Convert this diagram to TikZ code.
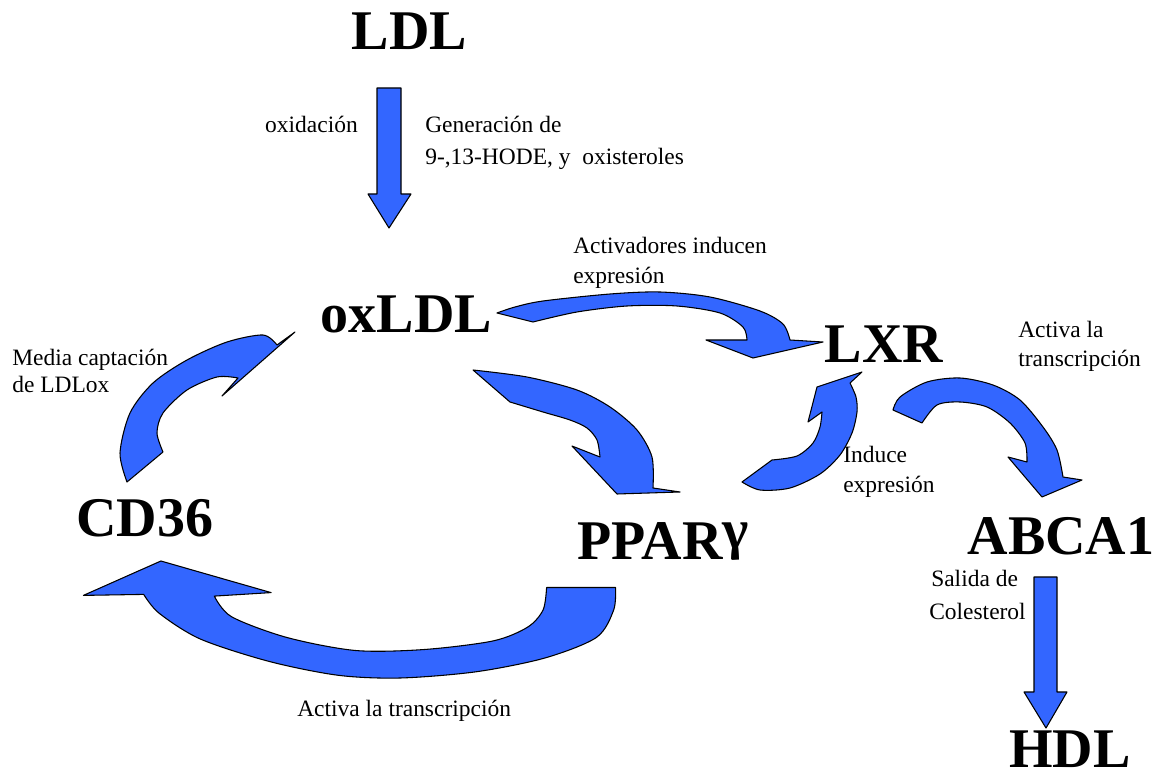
\documentclass[tikz,border=0pt]{standalone}
\usepackage{fontspec}
\setmainfont{Liberation Serif}
\definecolor{arrowblue}{RGB}{51,102,255}
\tikzset{
  big/.style={inner sep=0pt, anchor=base, text depth=0pt, font=\fontsize{42}{50}\selectfont\bfseries},
  small/.style={inner sep=0pt, anchor=base west, font=\fontsize{17.6}{21}\selectfont},
  blockarrow/.style={fill=arrowblue, draw=black, line width=0.8pt, line join=round},
}
\begin{document}
\begin{tikzpicture}[x=0.75pt,y=-0.75pt]
\useasboundingbox (0,0) rectangle (1158,780);
% labels
\node[big] (ldl) at (409.5,50) {LDL};
\node[big] (oxldl) at (406.5,333) {oxLDL};
\node[big] (lxr) at (884,363) {LXR};
\node[big] (cd36) at (145,537) {CD36};
\node[big] (ppar) at (663,560) {PPAR\raisebox{0.2em}{γ}};
\node[big] (abca) at (1061,555) {ABCA1};
\node[big] (hdl) at (1070,767) {HDL};
% small texts
\node[small, anchor=base east] (oxid) at (358,133) {oxidación};
\node[small] (gen1) at (425,133) {Generación de};
\node[small] (gen2) at (425,165) {9-,13-HODE, y\ \ oxisteroles};
\node[small] (act1) at (573,254) {Activadores inducen};
\node[small] (act2) at (573,284) {expresión};
\node[small] (med1) at (12,366) {Media captación};
\node[small] (med2) at (12,393) {de LDLox};
\node[small] (acl1) at (1018,338) {Activa la};
\node[small] (acl2) at (1018,367) {transcripción};
\node[small] (ind1) at (843,463) {Induce};
\node[small] (ind2) at (843,493) {expresión};
\node[small] (sal1) at (931,587) {Salida de};
\node[small] (sal2) at (929,620) {Colesterol};
\node[small] (actb) at (297,716) {Activa la transcripción};
% straight arrows
\path[blockarrow] (377,88) -- (401,88) -- (401,194) -- (411,194) -- (389,228) -- (368,194) -- (377,194) -- cycle;
\path[blockarrow] (1034,577) -- (1057,577) -- (1057,692) -- (1067,692) -- (1046,728) -- (1024,692) -- (1034,692) -- cycle;
% A: oxLDL -> LXR
\path[blockarrow] plot[smooth] coordinates {(497,313) (515,307) (543,301) (610,294) (660,292) (710,297) (760,311) (783,324) (790,340)}
  -- (823,342) -- (753,358) -- (706,340) -- (747,340)
  -- plot[smooth] coordinates {(747,340) (743,327) (720,313) (677,306) (627,306) (577,312) (533,322)} -- cycle;
% B: oxLDL -> PPARg
\path[blockarrow] plot[smooth] coordinates {(473,370) (527,377) (577,390) (610,407) (637,430) (652,457) (653,488)}
  -- (680,492) -- (617,494) -- (572,446) -- (600,457)
  -- plot[smooth] coordinates {(600,457) (597,440) (587,428) (570,420) (543,412) (510,402)} -- cycle;
% C: PPARg -> LXR
\path[blockarrow] (742,482) -- (772,460)
  -- plot[smooth] coordinates {(772,460) (797,456) (813,443) (820,427) (822,412)}
  -- (808,422) -- (817,387) -- (862,372) -- (850,383)
  -- plot[smooth] coordinates {(850,383) (856,397) (857,412) (852,433) (840,455) (820,474) (790,488) (760,490) (742,482)} -- cycle;
% D: LXR -> ABCA1
\path[blockarrow] plot[smooth] coordinates {(893,410) (900,397) (927,382) (960,378) (993,385) (1020,400) (1043,427) (1057,450) (1063,477)}
  -- (1082,480) -- (1042,497) -- (1008,457) -- (1027,462)
  -- plot[smooth] coordinates {(1027,462) (1025,443) (1010,423) (987,407) (960,402) (937,405) (922,423)} -- cycle;
% E: CD36 -> oxLDL
\path[blockarrow] plot[smooth] coordinates {(127,482) (120,453) (130,413) (153,383) (187,360) (227,342) (263,335) (277,345)}
  -- (295,332) -- (222,396) -- (238,378)
  -- plot[smooth] coordinates {(238,378) (217,377) (187,390) (163,413) (157,433) (163,452)} -- cycle;
% F: PPARg -> CD36
\path[blockarrow] (546.6,587.5) -- (615.5,587.5)
  -- plot[smooth] coordinates {(615.5,587.5) (613.7,609.9) (596.5,637.4) (544.9,658) (476,671.8) (400.2,678) (338.3,675.3) (269.4,661.5) (200.5,639.1) (159.2,613.3) (143.7,594.4)}
  -- (83.4,595.4) -- (160.9,561) -- (271.1,592.6) -- (214.3,596.1)
  -- plot[smooth] coordinates {(214.3,596.1) (231.5,616.7) (286.6,637.4) (355.5,650.5) (424.4,649.5) (493.2,640.9) (527.7,627.1) (543.1,609.9) (546.6,587.5)} -- cycle;
\end{tikzpicture}
\end{document}
